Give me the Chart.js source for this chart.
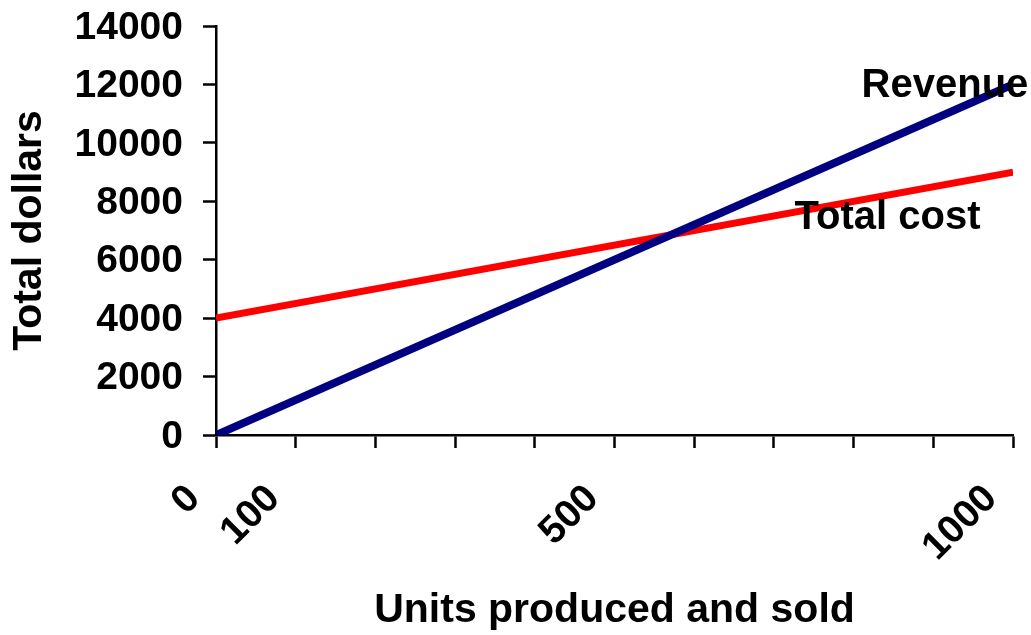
<!DOCTYPE html>
<html>
<head>
<meta charset="utf-8">
<script src="https://cdn.jsdelivr.net/npm/chart.js@4/dist/chart.umd.min.js"></script>
<style>
  html, body { margin: 0; padding: 0; background: #ffffff; }
  #wrap { width: 1031px; height: 635px; }
</style>
</head>
<body>
<div id="wrap"><canvas id="c" width="1031" height="635"></canvas></div>
<script>
// Break-even chart: revenue vs. total cost
const units = [0, 1000];
const revenue = [0, 12000];
const totalCost = [4000, 9000];
const labelledUnits = [0, 100, 500, 1000];
const yTicks = [0, 2000, 4000, 6000, 8000, 10000, 12000, 14000];

const FONT = "'Liberation Sans', Arial, sans-serif";

const toPoints = (xs, ys) => xs.map((x, i) => ({ x: x, y: ys[i] }));

// Series names written next to their lines
const lineNames = {
  id: 'lineNames',
  afterDatasetsDraw(chart) {
    const { ctx, scales: { x, y } } = chart;
    const items = [
      { text: 'Revenue', ux: 810, uy: 11570 },
      { text: 'Total cost', ux: 726, uy: 7050 }
    ];
    ctx.save();
    ctx.font = "bold 40px " + FONT;
    ctx.fillStyle = '#000000';
    ctx.textAlign = 'left';
    ctx.textBaseline = 'alphabetic';
    items.forEach(it => {
      ctx.fillText(it.text, x.getPixelForValue(it.ux), y.getPixelForValue(it.uy));
    });
    ctx.restore();
  }
};

new Chart(document.getElementById('c'), {
  type: 'scatter',
  data: {
    datasets: [
      {
        // listed first so it is painted over the cost line
        label: 'Revenue',
        data: toPoints(units, revenue),
        showLine: true,
        borderColor: '#000080',
        borderWidth: 8,
        pointRadius: 0,
        pointHoverRadius: 0,
        fill: false
      },
      {
        label: 'Total cost',
        data: toPoints(units, totalCost),
        showLine: true,
        borderColor: '#ff0000',
        borderWidth: 7,
        pointRadius: 0,
        pointHoverRadius: 0,
        fill: false
      }
    ]
  },
  options: {
    responsive: false,
    animation: false,
    events: [],
    layout: { padding: { top: 26, right: 18, left: 0, bottom: 0 } },
    plugins: {
      legend: { display: false },
      tooltip: { enabled: false }
    },
    scales: {
      x: {
        type: 'linear',
        min: 0,
        max: 1000,
        afterBuildTicks(scale) {
          const t = [];
          for (let v = 0; v <= 1000; v += 100) t.push({ value: v });
          scale.ticks = t;
        },
        afterFit(scale) {
          scale.height = 200;
          scale.paddingLeft = 0;
          scale.paddingRight = 0;
        },
        border: { display: true, color: '#000000', width: 2.5 },
        grid: {
          drawOnChartArea: false,
          drawTicks: true,
          tickLength: 13,
          tickWidth: 2.5,
          tickColor: '#000000'
        },
        ticks: {
          autoSkip: false,
          maxRotation: 45,
          minRotation: 45,
          padding: 28,
          labelOffset: -22,
          color: '#000000',
          font: { family: FONT, size: 39, weight: 'bold' },
          callback: (v) => labelledUnits.includes(v) ? String(v) : ''
        },
        title: {
          display: true,
          text: 'Units produced and sold',
          color: '#000000',
          font: { family: FONT, size: 41, weight: 'bold' },
          padding: { top: 0, bottom: 0 }
        }
      },
      y: {
        type: 'linear',
        min: 0,
        max: 14000,
        afterBuildTicks(scale) {
          scale.ticks = yTicks.map(v => ({ value: v }));
        },
        afterFit(scale) {
          scale.width = 216;
          scale.paddingTop = 0;
          scale.paddingBottom = 0;
        },
        border: { display: true, color: '#000000', width: 2.5 },
        grid: {
          drawOnChartArea: false,
          drawTicks: true,
          tickLength: 13,
          tickWidth: 2.5,
          tickColor: '#000000'
        },
        ticks: {
          padding: 20,
          labelOffset: 2,
          color: '#000000',
          font: { family: FONT, size: 39, weight: 'bold' },
          callback: (v) => String(v)
        },
        title: {
          display: true,
          text: 'Total dollars',
          color: '#000000',
          font: { family: FONT, size: 41, weight: 'bold' },
          padding: { top: 5, bottom: 0 }
        }
      }
    }
  },
  plugins: [lineNames]
});
</script>
</body>
</html>
